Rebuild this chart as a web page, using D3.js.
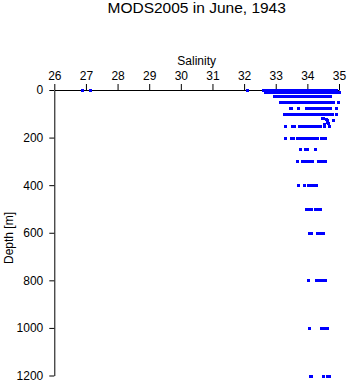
<!DOCTYPE html>
<html>
<head>
<meta charset="utf-8">
<script src="https://cdn.jsdelivr.net/npm/d3@7"></script>
<style>
  body { margin: 0; background: #fff; }
  svg { display: block; }
  text { font-family: "Liberation Sans", Arial, sans-serif; fill: #000; }
</style>
</head>
<body>
<svg id="chart" width="348" height="384"></svg>
<script>
// Axis ticks
const salinityTicks = [26, 27, 28, 29, 30, 31, 32, 33, 34, 35];
const depthTicks = [0, 200, 400, 600, 800, 1000, 1200];

// Salinity observations at each standard depth (m)
const depthLevels = [0, 10, 25, 50, 75, 100, 150, 200, 250, 300, 400, 500, 600, 800, 1000, 1200];
const sal0 = [26.88, 27.13, 32.09, 32.61, 32.66, 32.70, 32.77, 32.81, 32.86, 32.92, 32.95, 33.02, 33.07, 33.11, 33.18, 33.22, 33.26, 33.33, 33.37, 33.42, 33.48, 33.51, 33.57, 33.62, 33.66, 33.73, 33.77, 33.81, 33.88, 33.92, 33.97, 34.03, 34.06, 34.12, 34.17, 34.21, 34.27, 34.31, 34.36, 34.42, 34.45, 34.51, 34.56, 34.60, 34.66, 34.70, 34.75, 34.81, 34.85, 34.92];
const sal10 = [32.65, 32.71, 32.74, 32.80, 32.87, 32.91, 32.96, 33.03, 33.08, 33.13, 33.17, 33.24, 33.29, 33.34, 33.39, 33.44, 33.50, 33.55, 33.59, 33.65, 33.70, 33.74, 33.80, 33.86, 33.90, 33.95, 34.01, 34.05, 34.10, 34.16, 34.20, 34.25, 34.30, 34.35, 34.40, 34.44, 34.49, 34.55, 34.58, 34.64, 34.69, 34.73, 34.79, 34.83, 34.88, 34.94, 34.99];
const sal25 = [32.93, 32.98, 33.04, 33.09, 33.15, 33.19, 33.25, 33.31, 33.36, 33.40, 33.47, 33.52, 33.56, 33.61, 33.68, 33.72, 33.78, 33.83, 33.87, 33.94, 33.99, 34.04, 34.09, 34.14, 34.18, 34.23, 34.29, 34.34, 34.38, 34.43, 34.48, 34.53, 34.57, 34.62, 34.67, 34.73];
const sal50 = [33.12, 33.17, 33.23, 33.28, 33.33, 33.37, 33.44, 33.49, 33.53, 33.60, 33.64, 33.69, 33.76, 33.80, 33.85, 33.90, 33.96, 34.02, 34.06, 34.11, 34.17, 34.22, 34.26, 34.32, 34.37, 34.42, 34.48, 34.53, 34.57, 34.62, 34.68, 34.73, 34.78, 34.82, 34.97];
const sal75 = [33.44, 33.47, 33.70, 33.95, 34.00, 34.05, 34.11, 34.15, 34.21, 34.26, 34.30, 34.36, 34.41, 34.46, 34.51, 34.55, 34.61, 34.66, 34.70, 34.89];
const sal100 = [33.25, 33.37, 33.42, 33.47, 33.52, 33.58, 33.63, 33.68, 33.74, 33.79, 33.83, 33.89, 33.94, 33.99, 34.04, 34.10, 34.14, 34.19, 34.25, 34.30, 34.34, 34.40, 34.45, 34.49, 34.55, 34.60, 34.64, 34.70, 34.75, 34.79, 34.91];
const sal150 = [33.29, 33.51, 33.59, 33.73, 33.78, 33.83, 33.88, 33.93, 33.99, 34.03, 34.09, 34.14, 34.18, 34.24, 34.29, 34.34, 34.40, 34.52, 34.69];
const sal200 = [33.28, 33.47, 33.56, 33.67, 33.72, 33.78, 33.83, 33.88, 33.94, 33.99, 34.04, 34.10, 34.15, 34.19, 34.25, 34.30, 34.42, 34.47, 34.55];
const sal250 = [33.77, 33.94, 34.00, 34.25];
const sal300 = [33.66, 33.84, 33.93, 33.99, 34.05, 34.10, 34.15, 34.34, 34.40, 34.48, 34.56];
const sal400 = [33.71, 33.88, 34.01, 34.06, 34.12, 34.18, 34.23, 34.27];
const sal500 = [33.97, 34.03, 34.09, 34.13, 34.24, 34.29, 34.34, 34.39];
const sal600 = [34.05, 34.12, 34.31, 34.37, 34.43, 34.49];
const sal800 = [34.03, 34.27, 34.33, 34.39, 34.45, 34.50, 34.55];
const sal1000 = [34.06, 34.42, 34.48, 34.55, 34.61];
const sal1200 = [34.07, 34.13, 34.51, 34.61, 34.69];
const salinityByLevel = [sal0, sal10, sal25, sal50, sal75, sal100, sal150, sal200, sal250, sal300, sal400, sal500, sal600, sal800, sal1000, sal1200];

// Casts sampled off the standard levels
const extraSalinity = [34.46, 34.50, 34.60, 34.63, 34.62, 34.66, 34.82, 34.52];
const extraDepth = [116, 118, 121, 126, 133, 138, 127, 142];

const obs = [];
depthLevels.forEach((d, i) => salinityByLevel[i].forEach(s => obs.push({ s, d })));
extraSalinity.forEach((s, i) => obs.push({ s, d: extraDepth[i] }));

const svg = d3.select("#chart");

const x = d3.scaleLinear().domain([26, 35]).range([54.3, 339]);
const y = d3.scaleLinear().domain([0, 1200]).range([90, 375.5]);

// Title
svg.append("text")
  .attr("x", 196.7).attr("y", 13)
  .attr("text-anchor", "middle")
  .style("font-size", "15.5px")
  .text("MODS2005 in June, 1943");

// Salinity axis along the top
const xAxis = svg.append("g")
  .attr("transform", "translate(0,90)")
  .call(d3.axisTop(x).tickValues(salinityTicks).tickFormat(d3.format("d"))
    .tickSize(6).tickSizeOuter(0).tickPadding(4));

svg.append("text")
  .attr("x", 196.7).attr("y", 65)
  .attr("text-anchor", "middle")
  .style("font-size", "12px")
  .text("Salinity");

// Depth axis on the left
const yAxis = svg.append("g")
  .attr("transform", "translate(54.3,0)")
  .call(d3.axisLeft(y).tickValues(depthTicks).tickFormat(d3.format("d"))
    .tickSize(5).tickSizeOuter(0).tickPadding(6));

svg.append("text")
  .attr("transform", "translate(13,238) rotate(-90)")
  .attr("text-anchor", "middle")
  .style("font-size", "12px")
  .text("Depth [m]");

[xAxis, yAxis].forEach(g => {
  g.selectAll("text").style("font-size", "12px").style("font-family", "\"Liberation Sans\", Arial, sans-serif").attr("fill", "#000");
  g.selectAll("path, line").attr("stroke", "#000").attr("stroke-width", 1);
});

// Observations
svg.append("g")
  .selectAll("rect")
  .data(obs)
  .join("rect")
  .attr("x", d => Math.round(x(d.s)) - 1)
  .attr("y", d => Math.round(y(d.d)) - 1)
  .attr("width", 3)
  .attr("height", 3)
  .attr("fill", "#0000ff")
  .attr("shape-rendering", "crispEdges");
</script>
</body>
</html>
